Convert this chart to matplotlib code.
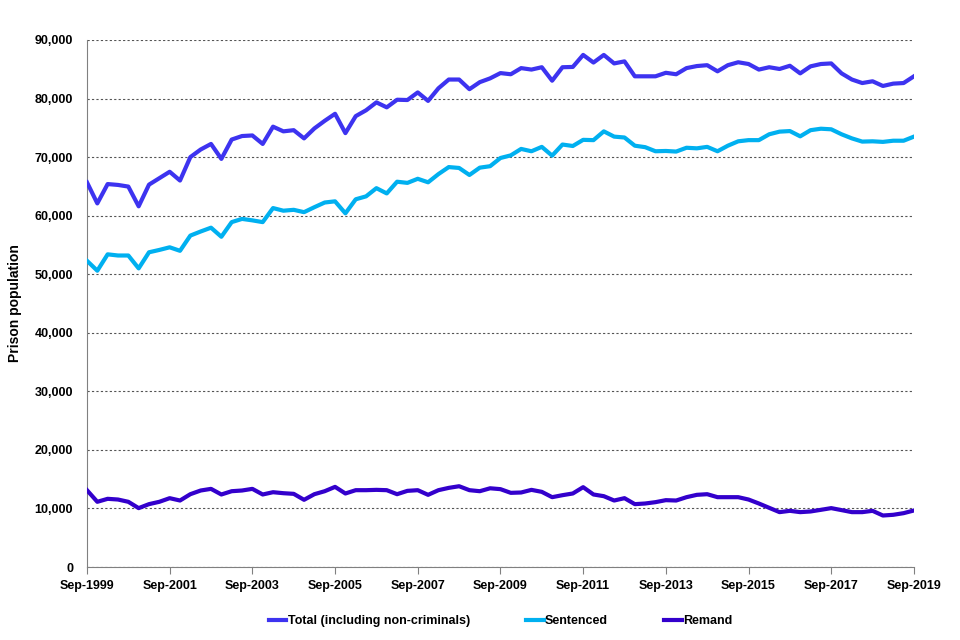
# Prison population by type, quarterly Sep-1999 to Sep-2019
import numpy as np
import matplotlib.pyplot as plt
from matplotlib.ticker import FuncFormatter

plt.rcParams['font.family'] = ['Liberation Sans', 'DejaVu Sans']
plt.rcParams['font.weight'] = 'bold'

# quarter index 0 = Sep-1999 ... 80 = Sep-2019
total = [65700, 62100, 65400, 65250, 64970, 61600, 65300, 66400, 67500, 66000,
         70000, 71300, 72250, 69700, 73000, 73600, 73700, 72250, 75200, 74400,
         74600, 73200, 74900, 76200, 77400, 74100, 77000, 78000, 79350, 78500,
         79800, 79750, 81050, 79600, 81750, 83250, 83250, 81600, 82800, 83450,
         84350, 84150, 85200, 84950, 85350, 83050, 85350, 85400, 87450, 86150,
         87450, 86000, 86350, 83800, 83800, 83800, 84400, 84150, 85200, 85550,
         85700, 84650, 85700, 86200, 85900, 84950, 85350, 85050, 85600, 84300,
         85500, 85900, 86000, 84300, 83250, 82650, 82950, 82150, 82550, 82650,
         83800]
sentenced = [52300, 50600, 53400, 53200, 53200, 51000, 53750, 54150, 54600, 54000,
             56600, 57300, 57950, 56400, 58900, 59450, 59200, 58900, 61300, 60850,
             61000, 60600, 61450, 62250, 62450, 60400, 62800, 63300, 64700, 63800,
             65800, 65600, 66300, 65700, 67100, 68300, 68150, 66950, 68200, 68450,
             69850, 70300, 71400, 71000, 71750, 70250, 72150, 71900, 72950, 72900,
             74400, 73500, 73350, 71950, 71700, 71000, 71050, 70950, 71600, 71500,
             71750, 71000, 71950, 72700, 72900, 72900, 73900, 74350, 74450, 73550,
             74600, 74850, 74750, 73900, 73200, 72650, 72700, 72600, 72800, 72800,
             73500]
remand = [13125, 11140, 11650, 11530, 11140, 10060, 10740, 11140, 11760, 11360,
          12440, 13070, 13350, 12390, 12950, 13070, 13350, 12390, 12780, 12610,
          12500, 11480, 12440, 12950, 13690, 12560, 13125, 13125, 13180, 13125,
          12440, 13010, 13125, 12330, 13125, 13520, 13800, 13125, 12950, 13450,
          13300, 12670, 12730, 13180, 12840, 11930, 12270, 12560, 13640, 12390,
          12100, 11360, 11760, 10740, 10850, 11080, 11420, 11360, 11930, 12330,
          12440, 11930, 11930, 11930, 11530, 10850, 10110, 9375, 9600, 9375,
          9490, 9770, 10060, 9720, 9375, 9375, 9600, 8800, 8920, 9200,
          9660]
tick_labels = ['Sep-1999', 'Sep-2001', 'Sep-2003', 'Sep-2005', 'Sep-2007', 'Sep-2009',
               'Sep-2011', 'Sep-2013', 'Sep-2015', 'Sep-2017', 'Sep-2019']

x = np.arange(len(total))

fig = plt.figure(figsize=(9.6, 6.4), dpi=100)
ax = fig.add_axes([0.0906, 0.114, 0.8614, 0.8235])

ax.plot(x, total, color='#3D33F0', lw=3, label='Total (including non-criminals)', zorder=3)
ax.plot(x, sentenced, color='#00B0F0', lw=3, label='Sentenced', zorder=3)
ax.plot(x, remand, color='#3300CC', lw=3, label='Remand', zorder=3)

ax.set_xlim(0, 80)
ax.set_ylim(0, 90000)
ax.set_xticks(np.arange(0, 81, 8))
ax.set_xticklabels(tick_labels, fontsize=9, fontweight='bold')
ax.set_yticks(np.arange(0, 90001, 10000))
ax.yaxis.set_major_formatter(FuncFormatter(lambda v, p: f'{int(v):,}'))
ax.tick_params(axis='y', length=0, labelsize=9, pad=10)
ax.tick_params(axis='x', length=5, color='#808080', pad=4)
for lab in ax.get_yticklabels():
    lab.set_fontweight('bold')

ax.grid(axis='y', linestyle=(0, (2, 2)), color='#555555', lw=0.8)
ax.set_axisbelow(True)
for s in ['top', 'right']:
    ax.spines[s].set_visible(False)
ax.spines['left'].set_color('#808080')
ax.spines['bottom'].set_color('#808080')

ax.set_ylabel('Prison population', fontsize=10, fontweight='bold')
ax.yaxis.set_label_coords(-0.078, 0.5)

ax.legend(loc='upper center', bbox_to_anchor=(0.5, -0.07), ncol=3, frameon=False,
          fontsize=9, handlelength=1.4, handletextpad=0.1, columnspacing=4.5)

plt.savefig('out.png', dpi=100)
